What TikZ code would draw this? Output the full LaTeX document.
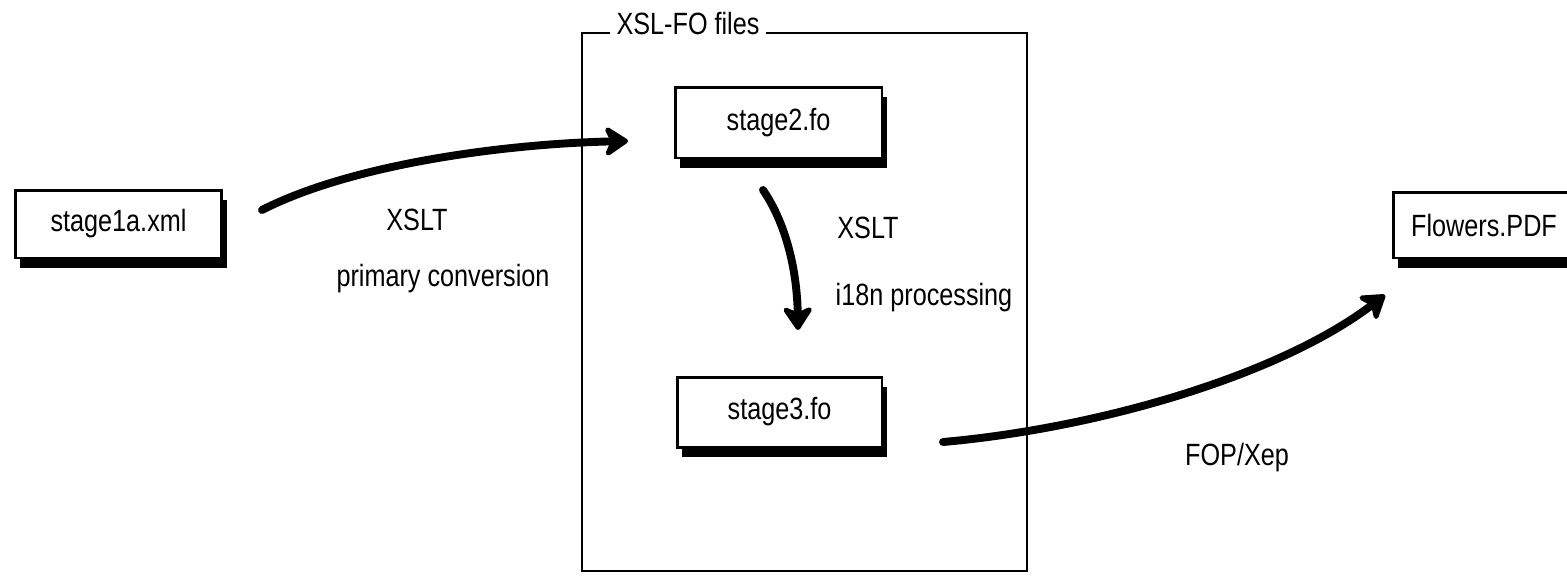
\documentclass[tikz,border=0pt]{standalone}
\usepackage{fontspec}
\setmainfont{Liberation Sans}[FakeStretch=0.82]
\usetikzlibrary{arrows.meta,shadows}

\begin{document}
\begin{tikzpicture}[
  x=0.02cm, y=-0.02cm,
  every node/.style={font=\fontsize{17.5}{20}\selectfont},
  filebox/.style={draw, line width=1.7pt, fill=white, inner sep=0pt,
    minimum height=1.36cm,
    drop shadow={shadow xshift=0.1cm, shadow yshift=-0.2cm, fill=black, opacity=1}},
  frame/.style={draw, line width=1.6pt, inner sep=0pt},
  flow/.style={line width=4.5pt, line cap=round,
    -{Stealth[length=0.55cm, width=0.72cm, inset=0.16cm, round]}},
  label/.style={inner sep=1pt}
]
\useasboundingbox (0,0) rectangle (1567,576);

% Group frame
\node[frame, minimum width=8.9cm, minimum height=10.76cm] (fo) at (804.5,302) {};
\node[fill=white, inner sep=4pt] (fotitle) at (688,24) {XSL-FO files};

% Nodes
\node[filebox, minimum width=4.14cm] (s1) at (118.5,224) {stage1a.xml};
\node[filebox, minimum width=4.14cm, minimum height=1.42cm] (s2) at (778.5,122.5) {stage2.fo};
\node[filebox, minimum width=4.1cm, minimum height=1.4cm] (s3) at (779.5,412) {stage3.fo};
\node[filebox, minimum width=3.64cm, minimum height=1.32cm] (pdf) at (1484,225) {Flowers.PDF};

% Arrow ends
\coordinate (a1) at (262,210);
\coordinate (b1) at (628,141);
\coordinate (a2) at (763,190);
\coordinate (b2) at (798,330);
\coordinate (a3) at (943,442);
\coordinate (b3) at (1385,295);

% Arrows
\draw[flow] (a1) .. controls (350,165) and (500,144) .. (b1);
\draw[flow] (a2) .. controls (785,222) and (797,268) .. (b2);
\draw[flow] (a3) .. controls (1100,428) and (1280,375) .. (b3);

% Labels
\node[label] (l1) at (417,220) {XSLT};
\node[label] (l2) at (443,279) {primary conversion};
\node[label] (l3) at (868,228) {XSLT};
\node[label] (l4) at (924,298) {i18n processing};
\node[label] (l5) at (1237,458) {FOP/Xep};

\end{tikzpicture}
\end{document}
